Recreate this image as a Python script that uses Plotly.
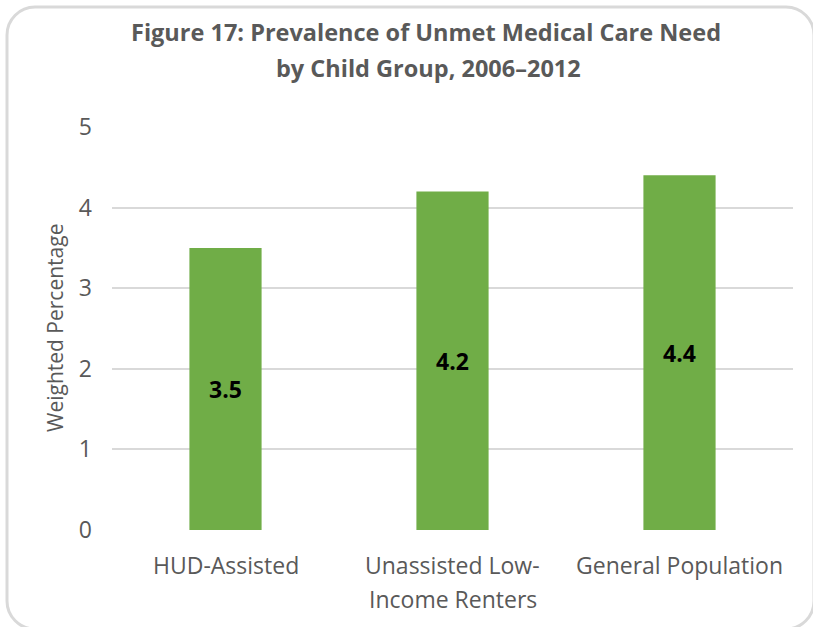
import plotly.graph_objects as go

categories = ["HUD-Assisted", "Unassisted Low-\nIncome Renters", "General Population"]
values = [3.5, 4.2, 4.4]
y_ticks = [0, 1, 2, 3, 4, 5]
title_lines = ["Figure 17: Prevalence of Unmet Medical Care Need", "by Child Group, 2006–2012"]
y_title = "Weighted Percentage"

W, H = 813, 627
L, R, T, B = 112, 20, 127, 97
pw, ph = W - L - R, H - T - B

def px_x(x):
    return (x - L) / pw

def px_y(y):
    return (H - B - y) / ph

FONT = "Open Sans"
GREY = "#595959"

fig = go.Figure()
fig.add_trace(go.Bar(
    x=list(range(len(categories))),
    y=values,
    marker=dict(color="#70AD47", line=dict(width=0)),
    width=0.318,
    text=[f"{v:.1f}" for v in values],
    texttemplate="<b>%{text}</b>",
    textposition="inside",
    insidetextanchor="middle",
    textfont=dict(family=FONT, size=23, color="#000000"),
    hoverinfo="skip",
))

annotations = []
for i, cat in enumerate(categories):
    for j, line in enumerate(cat.split("\n")):
        annotations.append(dict(
            x=i, xref="x", y=px_y(565 + 34 * j), yref="paper",
            text=line, showarrow=False, xanchor="center", yanchor="middle",
            font=dict(family=FONT, size=23, color=GREY),
        ))

# title lines
for (cx, cy), line in zip([(426, 32), (428, 68)], title_lines):
    annotations.append(dict(
        x=px_x(cx), xref="paper", y=px_y(cy), yref="paper",
        text=f"<b>{line}</b>", showarrow=False, xanchor="center", yanchor="middle",
        font=dict(family=FONT, size=23.5, color=GREY),
    ))

# y-axis title
annotations.append(dict(
    x=px_x(55), xref="paper", y=px_y(328), yref="paper",
    text=y_title, textangle=-90, showarrow=False, xanchor="center", yanchor="middle",
    font=dict(family=FONT, size=21, color=GREY),
))

# rounded chart border
x0b, y0b, x1b, y1b, r = 7, 7, 814, 629, 28
k = 0.552 * r
pts = [
    f"M{px_x(x0b + r)},{px_y(y0b)}",
    f"L{px_x(x1b - r)},{px_y(y0b)}",
    f"C{px_x(x1b - r + k)},{px_y(y0b)} {px_x(x1b)},{px_y(y0b + r - k)} {px_x(x1b)},{px_y(y0b + r)}",
    f"L{px_x(x1b)},{px_y(y1b - r)}",
    f"C{px_x(x1b)},{px_y(y1b - r + k)} {px_x(x1b - r + k)},{px_y(y1b)} {px_x(x1b - r)},{px_y(y1b)}",
    f"L{px_x(x0b + r)},{px_y(y1b)}",
    f"C{px_x(x0b + r - k)},{px_y(y1b)} {px_x(x0b)},{px_y(y1b - r + k)} {px_x(x0b)},{px_y(y1b - r)}",
    f"L{px_x(x0b)},{px_y(y0b + r)}",
    f"C{px_x(x0b)},{px_y(y0b + r - k)} {px_x(x0b + r - k)},{px_y(y0b)} {px_x(x0b + r)},{px_y(y0b)}",
    "Z",
]

fig.update_layout(
    width=W, height=H,
    margin=dict(l=L, r=R, t=T, b=B),
    paper_bgcolor="white", plot_bgcolor="white",
    showlegend=False,
    xaxis=dict(range=[-0.5, 2.5], showticklabels=False, showgrid=False,
               zeroline=False, showline=False, ticks=""),
    yaxis=dict(range=[0, 5], tickvals=y_ticks, showgrid=True, gridcolor="#D9D9D9",
               gridwidth=1.5, zeroline=False, showline=False, ticks="",
               tickfont=dict(family=FONT, size=23, color=GREY), ticklabelstandoff=19),
    annotations=annotations,
    shapes=[dict(
        type="path", xref="paper", yref="paper", path=" ".join(pts),
        line=dict(color="#D9D9D9", width=3), layer="below",
    )],
)

fig.write_html("out.html", config={"displayModeBar": False},
               post_script="document.body.style.margin='0px';document.body.style.overflow='hidden';")
